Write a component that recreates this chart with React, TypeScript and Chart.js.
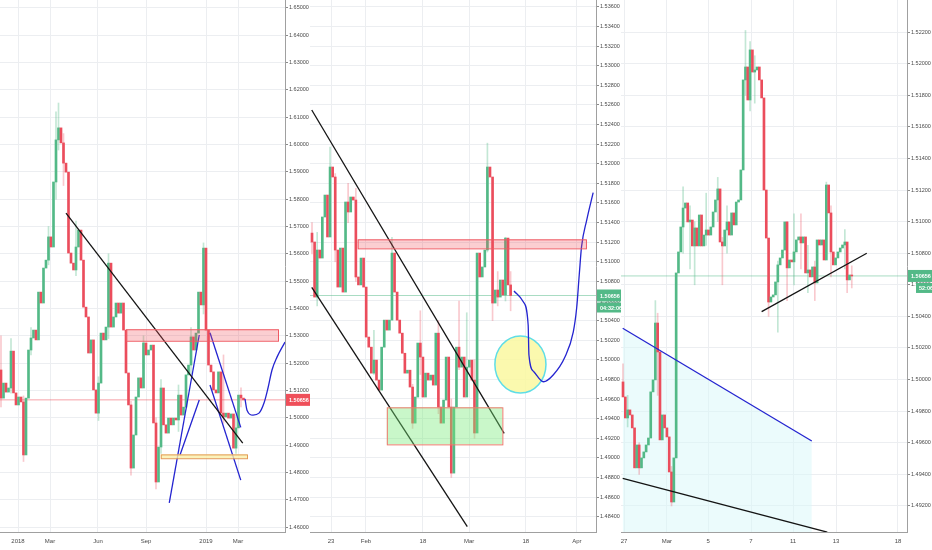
import React, { useEffect, useRef } from "react";
import { Chart, registerables } from "chart.js";

Chart.register(...registerables);

type Pt = [number, number];

// ---------------- Panel 1 (long-term) ----------------
const p1XTickPos = [6.8, 19.6, 38.8, 58, 82, 94.8];
const p1XTickLabels = ["2018", "Mar", "Jun", "Sep", "2019", "Mar"];
const p1YTicks = [1.46, 1.47, 1.48, 1.49, 1.5, 1.51, 1.52, 1.53, 1.54, 1.55, 1.56, 1.57, 1.58, 1.59, 1.6, 1.61, 1.62, 1.63, 1.64, 1.65];
const p1Open0 = 1.5175;
const p1Close = [
  1.5072, 1.5127, 1.5094, 1.5109, 1.5244, 1.5091, 1.5047, 1.5076, 1.5058, 1.4864,
  1.5072, 1.5248, 1.5292, 1.5321, 1.5285, 1.546, 1.542, 1.5548, 1.5577, 1.5662,
  1.5625, 1.5863, 1.6017, 1.6061, 1.6006, 1.5932, 1.5899, 1.5603, 1.5566, 1.5541,
  1.5625, 1.5687, 1.5577, 1.5405, 1.5369, 1.5237, 1.5285, 1.5102, 1.5017, 1.5127,
  1.531, 1.5285, 1.5332, 1.5566, 1.5332, 1.5369, 1.542, 1.5383, 1.542, 1.5321,
  1.5164, 1.5047, 1.4816, 1.4937, 1.5076, 1.5146, 1.5109, 1.5274, 1.523, 1.5248,
  1.5266, 1.4981, 1.4765, 1.4893, 1.5109, 1.4974, 1.4944, 1.4999, 1.4974, 1.4999,
  1.4992, 1.5083, 1.501, 1.5039, 1.5157, 1.5193, 1.5296, 1.5248, 1.531, 1.546,
  1.5413, 1.5621, 1.5321, 1.5193, 1.5168, 1.5102, 1.5091, 1.5168, 1.5017, 1.5003,
  1.5017, 1.4999, 1.5014, 1.4889, 1.4963, 1.5083, 1.5072, 1.50656,
];
// [candle index, low, high]
const p1Wicks = [
  [0, 1.5040, 1.5300], [4, 1.5090, 1.5290], [9, 1.4840, 1.5080], [12, 1.5230, 1.5330],
  [19, 1.5560, 1.5700], [22, 1.5800, 1.6120], [23, 1.5980, 1.6152], [25, 1.5850, 1.6040],
  [30, 1.5520, 1.5720], [39, 1.4990, 1.5150], [43, 1.5290, 1.5600], [52, 1.4790, 1.5060],
  [57, 1.5180, 1.5300], [62, 1.4740, 1.5000], [64, 1.4870, 1.5140], [71, 1.4950, 1.5120],
  [76, 1.5160, 1.5330], [81, 1.5380, 1.5640], [89, 1.4980, 1.5230], [94, 1.4870, 1.5010],
  [96, 1.5040, 1.5110],
];
const p1BlackLine: Pt[] = [[26, 1.5749], [96.7, 1.4907]];
const p1BlueUp1: Pt[] = [[67.3, 1.4689], [79.3, 1.5303]];
const p1BlueUp2: Pt[] = [[71.6, 1.4864], [79.3, 1.5065]];
const p1BlueDown1: Pt[] = [[83.6, 1.5311], [95.9, 1.4965]];
const p1BlueDown2: Pt[] = [[83.6, 1.512], [95.9, 1.4772]];
const p1BlueCurve: Pt[] = [[97.6, 1.5069], [98.4, 1.5028], [100.8, 1.501], [103.2, 1.5017], [105.2, 1.5054], [106.8, 1.5109], [108.4, 1.5175], [110.4, 1.5222], [113.6, 1.5277]];
const p1RedZone = [50, 110.8, 1.5282, 1.5324];
const p1YellowZone = [63.9, 98.4, 1.4852, 1.4866];

// ---------------- Panel 2 (medium-term) ----------------
const p2XTickPos = [7.4, 20.9, 43.0, 60.9, 82.9, 102.7];
const p2XTickLabels = ["23", "Feb", "18", "Mar", "18", "Apr"];
const p2YTicks = [1.484, 1.486, 1.488, 1.49, 1.492, 1.494, 1.496, 1.498, 1.5, 1.502, 1.504, 1.506, 1.508, 1.51, 1.512, 1.514, 1.516, 1.518, 1.52, 1.522, 1.524, 1.526, 1.528, 1.53, 1.532, 1.534, 1.536];
const p2Open0 = 1.51293;
const p2Close = [
  1.51202, 1.5064, 1.5112, 1.51038, 1.51457, 1.51681, 1.51253, 1.51967, 1.51865, 1.5112,
  1.50742, 1.5114, 1.50691, 1.5161, 1.51508, 1.51661, 1.5163, 1.50845, 1.50764, 1.51038,
  1.50742, 1.50232, 1.50129, 1.49864, 1.49997, 1.49793, 1.49691, 1.50129, 1.50405, 1.50303,
  1.50405, 1.51089, 1.50691, 1.50405, 1.50272, 1.50067, 1.49864, 1.49894, 1.49722, 1.49354,
  1.4962, 1.50171, 1.50028, 1.4962, 1.49864, 1.49793, 1.49844, 1.49742, 1.50272, 1.49518,
  1.49354, 1.49589, 1.50028, 1.49518, 1.48844, 1.49518, 1.50129, 1.49925, 1.50028, 1.4962,
  1.49925, 1.49997, 1.49793, 1.49253, 1.51089, 1.50845, 1.50947, 1.5112, 1.51967, 1.51865,
  1.50579, 1.50712, 1.5064, 1.50814, 1.50661, 1.51242, 1.50764, 1.50656,
];
const p2Wicks = [
  [0, 1.5108, 1.5140], [2, 1.5055, 1.5130], [7, 1.5150, 1.5217], [9, 1.5100, 1.5190],
  [14, 1.5140, 1.5180], [17, 1.5080, 1.5175], [24, 1.4985, 1.5030], [31, 1.5060, 1.5125],
  [39, 1.4930, 1.4975], [42, 1.4985, 1.5050], [49, 1.4945, 1.5040], [54, 1.4880, 1.4960],
  [57, 1.4990, 1.5060], [60, 1.4980, 1.5048], [63, 1.4920, 1.5000], [68, 1.5110, 1.5221],
  [70, 1.5040, 1.5120], [72, 1.5055, 1.5090], [75, 1.5060, 1.5125], [77, 1.5050, 1.5090],
];
const p2UpperLine: Pt[] = [[-0.1, 1.52549], [74.5, 1.49249]];
const p2LowerLine: Pt[] = [[-0.1, 1.50739], [60.2, 1.48297]];
const p2BlueCurve: Pt[] = [[78.3, 1.50702], [81.9, 1.50592], [83.8, 1.50355], [84.1, 1.50049], [86.0, 1.49878], [89.7, 1.49776], [93.5, 1.49845], [98.1, 1.50031], [101.3, 1.50286], [102.6, 1.50528], [103.6, 1.50865], [104.5, 1.51154], [106.5, 1.51426], [109.0, 1.51705]];
const p2RedZone = [17.7, 106.2, 1.51137, 1.51229];
const p2GreenZone = [29.0, 73.8, 1.49137, 1.49515];
const p2Circle = [80.8, 1.49952, 9.9, 0.00291];

// ---------------- Panel 3 (short-term) ----------------
const p3XTickPos = [0.43, 19, 36.8, 55.4, 73.6, 92.2, 119];
const p3XTickLabels = ["27", "Mar", "5", "7", "11", "13", "18"];
const p3YTicks = [1.492, 1.494, 1.496, 1.498, 1.5, 1.502, 1.504, 1.506, 1.508, 1.51, 1.512, 1.514, 1.516, 1.518, 1.52, 1.522];
const p3Open0 = 1.49985;
const p3Close = [
  1.4989, 1.49757, 1.49808, 1.49776, 1.49694, 1.49441, 1.49586, 1.49441, 1.49504, 1.49542,
  1.49586, 1.4963, 1.49922, 1.49998, 1.50358, 1.50175, 1.49618, 1.49776, 1.49694, 1.49637,
  1.49415, 1.49225, 1.49504, 1.50675, 1.50808, 1.50966, 1.51086, 1.51118, 1.50998, 1.5101,
  1.50846, 1.5096, 1.50846, 1.51042, 1.50846, 1.50915, 1.50947, 1.50915, 1.50966, 1.51061,
  1.51137, 1.51207, 1.50871, 1.50846, 1.50947, 1.50998, 1.50915, 1.51055, 1.50979, 1.51124,
  1.51137, 1.51327, 1.51897, 1.51979, 1.5177, 1.52087, 1.51947, 1.5196, 1.51979, 1.51897,
  1.51783, 1.512, 1.50896, 1.50491, 1.50523, 1.50536, 1.50618, 1.50726, 1.5077, 1.5082,
  1.50998, 1.50707, 1.50757, 1.50745, 1.50808, 1.50884, 1.50903, 1.50865, 1.50903, 1.50675,
  1.50694, 1.5065, 1.50713, 1.50612, 1.50884, 1.50852, 1.50884, 1.50757, 1.51232, 1.51055,
  1.50808, 1.50726, 1.5077, 1.50808, 1.50833, 1.50852, 1.50871, 1.50631, 1.50662, 1.50656,
];
const p3Wicks = [
  [0, 1.4990, 1.5010], [2, 1.4970, 1.4990], [7, 1.4940, 1.4960], [14, 1.5030, 1.5050],
  [15, 1.4990, 1.5042], [21, 1.4920, 1.4945], [26, 1.5080, 1.5122], [29, 1.5070, 1.5110],
  [31, 1.5060, 1.5100], [36, 1.5085, 1.5118], [41, 1.5100, 1.5128], [43, 1.5060, 1.5090],
  [45, 1.5080, 1.5110], [53, 1.5180, 1.5221], [55, 1.5170, 1.5214], [57, 1.5175, 1.5205],
  [63, 1.5040, 1.5065], [67, 1.5030, 1.5075], [71, 1.5050, 1.5100], [74, 1.5060, 1.5105],
  [77, 1.5070, 1.5105], [80, 1.5055, 1.5085], [83, 1.5050, 1.5075], [88, 1.5080, 1.5125],
  [90, 1.5065, 1.5110], [96, 1.5070, 1.5095], [97, 1.5055, 1.5080], [99, 1.5058, 1.5072],
];
const p3ShortBlack: Pt[] = [[60.0, 1.5043], [105.5, 1.508]];
const p3BlueLine: Pt[] = [[-0.13, 1.50325], [81.7, 1.49611]];
const p3LowerBlack: Pt[] = [[-0.13, 1.49375], [88.4, 1.49034]];

const LAST_PRICE = 1.50656;

const GREEN = "#53b987";
const RED = "#eb4d5c";
const BLUE = "#2424d0";
const BLACK = "#141414";
const GRID = "#eceef1";
const FONT = "'Liberation Sans', Arial, sans-serif";

interface LineSpec { pts: Pt[]; color: string; width: number; curve?: boolean; fill?: string; }
interface ZoneSpec { z: number[]; fill: string; stroke: string; }
interface PanelSpec {
  xMin: number; xMax: number; yMin: number; yMax: number;
  yTicks: number[]; xTickPos: number[]; xTickLabels: string[];
  open0: number; closes: number[]; wicks: number[][];
  lines: LineSpec[]; zones: ZoneSpec[]; circles: number[][];
  priceColor: string; priceLineColor: string;
  timer?: string; timerOffset?: number;
}

function buildConfig(spec: PanelSpec): any {
  const openOf = (i: number) => (i === 0 ? spec.open0 : spec.closes[i - 1]);
  const bodies = spec.closes.map((c, i) => ({ x: i, y: [openOf(i), c] }));
  const colors = spec.closes.map((c, i) => (c >= openOf(i) ? GREEN : RED));
  const wickData = spec.wicks.map(([i, lo, hi]) => ({ x: i, y: [lo, hi] }));
  const wickColors = spec.wicks.map(([i]) =>
    spec.closes[i] >= openOf(i) ? "rgba(83,185,135,0.35)" : "rgba(235,77,92,0.3)"
  );

  const datasets: any[] = [];
  spec.lines.forEach((l) => {
    if (l.fill) {
      datasets.push({
        type: "line",
        data: l.pts.map(([x, y]) => ({ x, y })),
        borderColor: "rgba(0,0,0,0)",
        borderWidth: 0,
        backgroundColor: l.fill,
        fill: "start",
        pointRadius: 0,
        order: 20,
      });
    }
  });
  datasets.push({
    type: "line",
    data: [{ x: spec.xMin, y: LAST_PRICE }, { x: spec.xMax, y: LAST_PRICE }],
    borderColor: spec.priceLineColor,
    borderWidth: 1,
    pointRadius: 0,
    fill: false,
    order: 15,
  });
  datasets.push({
    type: "bar",
    data: wickData,
    backgroundColor: wickColors,
    borderWidth: 0,
    barThickness: 1,
    grouped: false,
    order: 12,
  });
  datasets.push({
    type: "bar",
    data: bodies,
    backgroundColor: colors,
    borderWidth: 0,
    barThickness: 2,
    grouped: false,
    order: 10,
  });
  spec.lines.forEach((l) => {
    datasets.push({
      type: "line",
      data: l.pts.map(([x, y]) => ({ x, y })),
      borderColor: l.color,
      borderWidth: l.width,
      pointRadius: 0,
      fill: false,
      tension: l.curve ? 0.4 : 0,
      cubicInterpolationMode: l.curve ? "monotone" : "default",
      order: 1,
    });
  });

  const annot = {
    id: "annot",
    beforeDatasetsDraw(chart: any) {
      const { ctx, chartArea, scales } = chart;
      const xs = scales.x, ys = scales.y;
      ctx.save();
      ctx.beginPath();
      ctx.rect(chartArea.left, chartArea.top, chartArea.right - chartArea.left, chartArea.bottom - chartArea.top);
      ctx.clip();
      spec.circles.forEach(([cx, cy, rx, ry]) => {
        const px = xs.getPixelForValue(cx), py = ys.getPixelForValue(cy);
        const prx = Math.abs(xs.getPixelForValue(cx + rx) - px);
        const pry = Math.abs(ys.getPixelForValue(cy + ry) - py);
        ctx.beginPath();
        ctx.ellipse(px, py, prx, pry, 0, 0, Math.PI * 2);
        ctx.fillStyle = "rgba(250,248,160,0.85)";
        ctx.fill();
        ctx.lineWidth = 1.5;
        ctx.strokeStyle = "#5fdde6";
        ctx.stroke();
      });
      ctx.restore();
    },
    afterDatasetsDraw(chart: any) {
      const { ctx, chartArea, scales } = chart;
      const xs = scales.x, ys = scales.y;
      ctx.save();
      ctx.beginPath();
      ctx.rect(chartArea.left, chartArea.top, chartArea.right - chartArea.left, chartArea.bottom - chartArea.top);
      ctx.clip();
      spec.zones.forEach((zn) => {
        const [x1, x2, y1, y2] = zn.z;
        const px1 = xs.getPixelForValue(x1), px2 = xs.getPixelForValue(x2);
        const py1 = ys.getPixelForValue(y2), py2 = ys.getPixelForValue(y1);
        ctx.fillStyle = zn.fill;
        ctx.fillRect(px1, py1, px2 - px1, py2 - py1);
        ctx.lineWidth = 1;
        ctx.strokeStyle = zn.stroke;
        ctx.strokeRect(px1 + 0.5, py1 + 0.5, px2 - px1, py2 - py1);
      });
      ctx.restore();
    },
    afterDraw(chart: any) {
      const { ctx, chartArea, scales } = chart;
      const y = scales.y.getPixelForValue(LAST_PRICE);
      ctx.save();
      ctx.fillStyle = spec.priceColor;
      ctx.fillRect(chartArea.right + 1, y - 6, 24, 12);
      ctx.fillStyle = "#ffffff";
      ctx.font = `bold 5.5px ${FONT}`;
      ctx.textBaseline = "middle";
      ctx.textAlign = "left";
      ctx.fillText(LAST_PRICE.toFixed(5), chartArea.right + 4, y + 0.5);
      if (spec.timer) {
        const off = spec.timerOffset || 0;
        ctx.fillStyle = spec.priceColor;
        ctx.fillRect(chartArea.right + 1 + off, y + 7, 24 - off, 10);
        ctx.fillStyle = "#ffffff";
        ctx.fillText(spec.timer, chartArea.right + 4 + off, y + 12.5);
      }
      ctx.restore();
    },
  };

  return {
    type: "bar",
    data: { datasets },
    plugins: [annot],
    options: {
      animation: false,
      responsive: false,
      events: [],
      layout: { padding: 0 },
      plugins: { legend: { display: false }, tooltip: { enabled: false } },
      scales: {
        x: {
          type: "linear",
          min: spec.xMin,
          max: spec.xMax,
          offset: false,
          grid: { color: GRID, offset: false, drawTicks: false, lineWidth: 1 },
          border: { display: true, color: "#a0a0a0" },
          afterBuildTicks: (axis: any) => {
            axis.ticks = spec.xTickPos.map((v) => ({ value: v }));
          },
          afterFit: (scale: any) => {
            scale.height = 18;
            scale.paddingLeft = 0;
            scale.paddingRight = 0;
          },
          ticks: {
            autoSkip: false,
            maxRotation: 0,
            padding: 6,
            color: "#4a4a4a",
            font: { size: 6, family: FONT },
            callback: (_v: any, i: number) => spec.xTickLabels[i],
          },
        },
        y: {
          type: "linear",
          position: "right",
          min: spec.yMin,
          max: spec.yMax,
          beginAtZero: false,
          grid: { color: GRID, tickLength: 3, tickColor: "#8a8a8a", lineWidth: 1 },
          border: { display: true, color: "#a0a0a0" },
          afterBuildTicks: (axis: any) => {
            axis.ticks = spec.yTicks.map((v) => ({ value: v }));
          },
          afterFit: (scale: any) => {
            scale.width = 25;
            scale.paddingTop = 0;
            scale.paddingBottom = 0;
          },
          ticks: {
            padding: 1,
            color: "#4a4a4a",
            font: { size: 5.5, family: FONT },
            callback: (v: any) => Number(v).toFixed(5),
          },
        },
      },
    },
  };
}

const panel1: PanelSpec = {
  xMin: -0.4, xMax: 113.6, yMin: 1.4582, yMax: 1.6529,
  yTicks: p1YTicks, xTickPos: p1XTickPos, xTickLabels: p1XTickLabels,
  open0: p1Open0, closes: p1Close, wicks: p1Wicks,
  lines: [
    { pts: p1BlackLine, color: BLACK, width: 1.3 },
    { pts: p1BlueUp1, color: BLUE, width: 1.3 },
    { pts: p1BlueUp2, color: BLUE, width: 1.3 },
    { pts: p1BlueDown1, color: BLUE, width: 1.3 },
    { pts: p1BlueDown2, color: BLUE, width: 1.3 },
    { pts: p1BlueCurve, color: BLUE, width: 1.3, curve: true },
  ],
  zones: [
    { z: p1RedZone, fill: "rgba(242,80,90,0.28)", stroke: "#ef5a63" },
    { z: p1YellowZone, fill: "rgba(250,240,170,0.8)", stroke: "#e29a55" },
  ],
  circles: [],
  priceColor: "#ef4f5a",
  priceLineColor: "rgba(239,83,94,0.55)",
};

const panel2: PanelSpec = {
  xMin: -0.78, xMax: 110.1, yMin: 1.48243, yMax: 1.53671,
  yTicks: p2YTicks, xTickPos: p2XTickPos, xTickLabels: p2XTickLabels,
  open0: p2Open0, closes: p2Close, wicks: p2Wicks,
  lines: [
    { pts: p2UpperLine, color: BLACK, width: 1.3 },
    { pts: p2LowerLine, color: BLACK, width: 1.3 },
    { pts: p2BlueCurve, color: BLUE, width: 1.3, curve: true },
  ],
  zones: [
    { z: p2RedZone, fill: "rgba(242,80,90,0.28)", stroke: "#ef5a63" },
    { z: p2GreenZone, fill: "rgba(120,235,120,0.4)", stroke: "#ef7a6e" },
  ],
  circles: [p2Circle],
  priceColor: GREEN,
  priceLineColor: "rgba(83,185,135,0.5)",
  timer: "04:32:06",
  timerOffset: 0,
};

const panel3: PanelSpec = {
  xMin: -0.87, xMax: 122.9, yMin: 1.49035, yMax: 1.52403,
  yTicks: p3YTicks, xTickPos: p3XTickPos, xTickLabels: p3XTickLabels,
  open0: p3Open0, closes: p3Close, wicks: p3Wicks,
  lines: [
    { pts: p3BlueLine, color: BLUE, width: 1.3, fill: "rgba(215,248,250,0.5)" },
    { pts: p3ShortBlack, color: BLACK, width: 1.3 },
    { pts: p3LowerBlack, color: BLACK, width: 1.3 },
  ],
  zones: [],
  circles: [],
  priceColor: GREEN,
  priceLineColor: "rgba(83,185,135,0.5)",
  timer: "52:06",
  timerOffset: 8,
};

function Panel({ spec, left, width }: { spec: PanelSpec; left: number; width: number }) {
  const ref = useRef<HTMLCanvasElement | null>(null);
  useEffect(() => {
    if (!ref.current) return;
    const chart = new Chart(ref.current, buildConfig(spec));
    return () => chart.destroy();
  }, [spec]);
  return (
    <canvas
      ref={ref}
      width={width}
      height={550}
      style={{ position: "absolute", left, top: 0, width, height: 550 }}
    />
  );
}

export default function App() {
  return (
    <div style={{ position: "absolute", left: 0, top: 0, width: 932, height: 550, background: "#ffffff", overflow: "hidden" }}>
      <Panel spec={panel1} left={0} width={310} />
      <Panel spec={panel2} left={310} width={311} />
      <Panel spec={panel3} left={621} width={311} />
    </div>
  );
}
